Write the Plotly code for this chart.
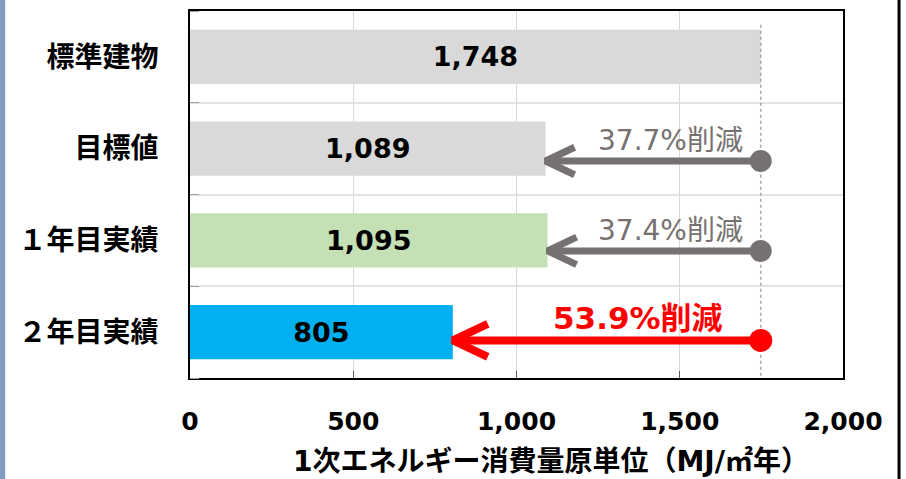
import plotly.graph_objects as go

categories = ["標準建物", "目標値", "１年目実績", "２年目実績"]
values = [1748, 1089, 1095, 805]
bar_colors = ["#D9D9D9", "#D9D9D9", "#C5E0B4", "#00B0F0"]
x_ticks = [0, 500, 1000, 1500, 2000]
x_title = "1次エネルギー消費量原単位（MJ/㎡年）"

baseline = values[0]
pos = list(range(len(categories)))

FONT = "DejaVu Sans, Noto Sans CJK JP, sans-serif"
GRAY = "#767171"
RED = "#FF0000"

fig = go.Figure()

# reference dotted line at the standard building value
fig.add_trace(go.Scatter(
    x=[baseline, baseline], y=[-0.35, 3.5], mode="lines",
    line=dict(color="#A6A6A6", width=1.5, dash="dot"),
    hoverinfo="skip", showlegend=False))

fig.add_trace(go.Bar(
    x=values, y=pos, orientation="h", width=0.59,
    marker=dict(color=bar_colors, line=dict(width=0)),
    text=[f"{v:,}" for v in values], textposition="inside",
    insidetextanchor="middle", textangle=0,
    textfont=dict(family=FONT, size=27, color="black", weight="bold"),
    showlegend=False, hoverinfo="skip"))

# reduction arrows
arrow_style = {
    1: dict(color=GRAY, off=0.135, width=7, dx=89, dy=0.15, msize=22, fsize=28, weight="normal", tx=1700),
    2: dict(color=GRAY, off=0.115, width=7, dx=89, dy=0.15, msize=22, fsize=28, weight="normal", tx=1700),
    3: dict(color=RED, off=0.09, width=8, dx=107, dy=0.18, msize=23, fsize=31, weight="bold", tx=1640),
}
for i in range(1, len(values)):
    s = arrow_style[i]
    v = values[i]
    ya = pos[i] + s["off"]
    fig.add_trace(go.Scatter(
        x=[baseline, v, None, v + s["dx"], v, v + s["dx"]],
        y=[ya, ya, None, ya - s["dy"], ya, ya + s["dy"]],
        mode="lines", line=dict(color=s["color"], width=s["width"]),
        hoverinfo="skip", showlegend=False))
    fig.add_trace(go.Scatter(
        x=[baseline], y=[ya], mode="markers",
        marker=dict(color=s["color"], size=s["msize"]),
        hoverinfo="skip", showlegend=False))
    pct = (1 - v / baseline) * 100
    fig.add_annotation(
        x=s["tx"], y=ya, xref="x", yref="y", xanchor="right", yanchor="bottom",
        text=f"{pct:.1f}%削減", showarrow=False, yshift=2,
        font=dict(family=FONT, size=s["fsize"], color=s["color"], weight=s["weight"]))

# axis title
fig.add_annotation(
    x=0.553, y=-0.2276, xref="paper", yref="paper", xanchor="center", yanchor="middle",
    text=x_title, showarrow=False,
    font=dict(family=FONT, size=28, color="black", weight="bold"))

# decorative page edges
fig.add_shape(type="rect", xref="paper", yref="paper", x0=-0.30, x1=-0.283,
              y0=-0.3, y1=1.05, fillcolor="#7F9CC0", line=dict(width=0), layer="below")
fig.add_shape(type="line", xref="paper", yref="paper", x0=1.0858, x1=1.0858,
              y0=-0.3, y1=1.05, line=dict(color="black", width=3))

fig.update_layout(
    width=906, height=479,
    margin=dict(l=190, r=63, t=9, b=101),
    paper_bgcolor="white", plot_bgcolor="white",
    xaxis=dict(
        range=[0, 2000], tickvals=x_ticks, tickformat=",",
        showgrid=True, gridcolor="#D9D9D9", gridwidth=1,
        ticks="inside", ticklen=7, tickcolor="#595959",
        showline=True, linecolor="black", linewidth=2, mirror=True,
        zeroline=False, ticklabelstandoff=20,
        tickfont=dict(family=FONT, size=25, color="black", weight="bold")),
    yaxis=dict(
        range=[3.5, -0.5], tickvals=pos, ticktext=categories,
        showgrid=False, ticks="", zeroline=False,
        showline=True, linecolor="black", linewidth=2, mirror=True,
        ticklabelstandoff=24,
        tickfont=dict(family=FONT, size=28, color="black", weight="bold"),
        minor=dict(tick0=0.5, dtick=1, showgrid=True, gridcolor="#E3E3E3", gridwidth=2,
                   ticks="inside", ticklen=9, tickcolor="#A0A0A0")),
)

fig.write_html("out.html", config={"displayModeBar": False},
               post_script="document.body.style.margin='0';document.body.style.overflow='hidden';")
